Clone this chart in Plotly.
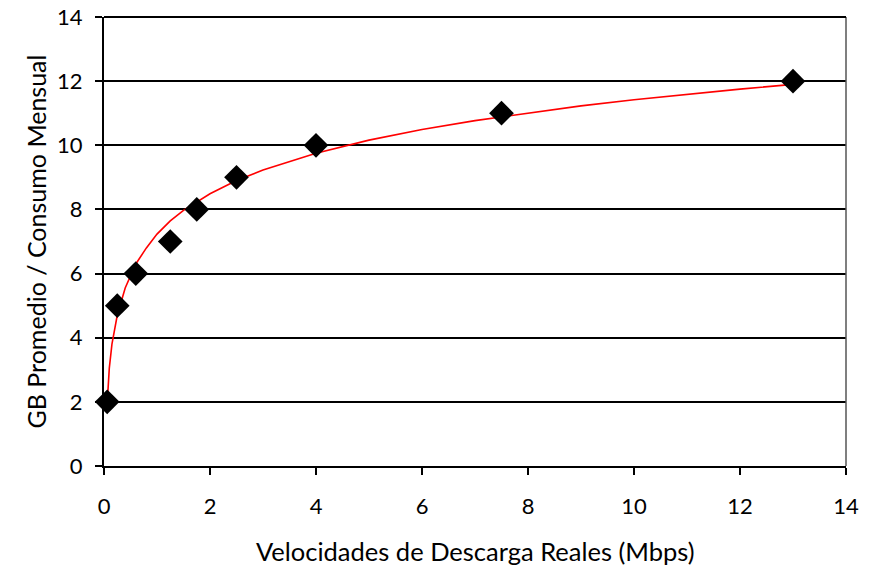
import plotly.graph_objects as go

# Observed data points
speed_mbps = [0.06, 0.25, 0.6, 1.25, 1.75, 2.5, 4.0, 7.5, 13.0]
gb_monthly = [2, 5, 6, 7, 8, 9, 10, 11, 12]

# Trend curve
trend_x = [0.06, 0.1, 0.15, 0.25, 0.4, 0.6, 0.8, 1.0, 1.25, 1.5, 2.0, 2.5, 3.0,
           4.0, 5.0, 6.0, 7.0, 8.0, 9.0, 10.0, 11.0, 12.0, 13.0]
trend_y = [1.95, 3.05, 3.8, 4.7, 5.55, 6.3, 6.8, 7.23, 7.64, 7.97, 8.49, 8.9, 9.23,
           9.75, 10.16, 10.49, 10.77, 11.01, 11.23, 11.42, 11.59, 11.75, 11.9]

x_ticks = [0, 2, 4, 6, 8, 10, 12, 14]
y_ticks = [0, 2, 4, 6, 8, 10, 12, 14]

x_title = "Velocidades de Descarga Reales (Mbps)"
y_title = "GB Promedio / Consumo Mensual"

font_family = "Lato, 'Open Sans', sans-serif"

fig = go.Figure()
fig.add_trace(go.Scatter(x=trend_x, y=trend_y, mode="lines",
                         line=dict(color="#ff0000", width=1.6),
                         showlegend=False, hoverinfo="skip"))
fig.add_trace(go.Scatter(x=speed_mbps, y=gb_monthly, mode="markers",
                         marker=dict(symbol="diamond", size=19, color="black"),
                         showlegend=False, cliponaxis=False))

fig.update_layout(
    width=867, height=563,
    margin=dict(l=96, r=29, t=9, b=105, autoexpand=False),
    paper_bgcolor="white", plot_bgcolor="white",
    font=dict(family=font_family, size=22, color="black"),
    xaxis=dict(range=[0, 14], tickvals=x_ticks, showgrid=False,
               showline=True, linecolor="black", linewidth=2,
               ticks="outside", ticklen=7, tickwidth=1.5, tickcolor="black",
               zeroline=False, automargin=False, ticklabelstandoff=13,
               ticklabeloverflow="allow"),
    yaxis=dict(range=[0, 14], tickvals=y_ticks, showgrid=True,
               gridcolor="black", gridwidth=2,
               showline=True, linecolor="black", linewidth=2,
               ticks="outside", ticklen=7, tickwidth=1.5, tickcolor="black",
               zeroline=False, automargin=False, ticklabelstandoff=8,
               ticklabeloverflow="allow"),
    shapes=[dict(type="line", xref="paper", yref="paper", x0=1, x1=1, y0=0, y1=1,
                 line=dict(color="#555555", width=1.5)),
            dict(type="line", xref="paper", yref="paper", x0=0, x1=1, y0=1, y1=1,
                 line=dict(color="black", width=2))],
    annotations=[
        dict(text=x_title, xref="paper", yref="paper", x=0.5, y=0,
             yshift=-85, xanchor="center", yanchor="middle", showarrow=False,
             font=dict(size=25.5)),
        dict(text=y_title, xref="paper", yref="paper", x=0, y=0.5,
             xshift=-69, xanchor="center", yanchor="middle", showarrow=False,
             textangle=-90, font=dict(size=25)),
    ],
)

fig.write_html("out.html")
